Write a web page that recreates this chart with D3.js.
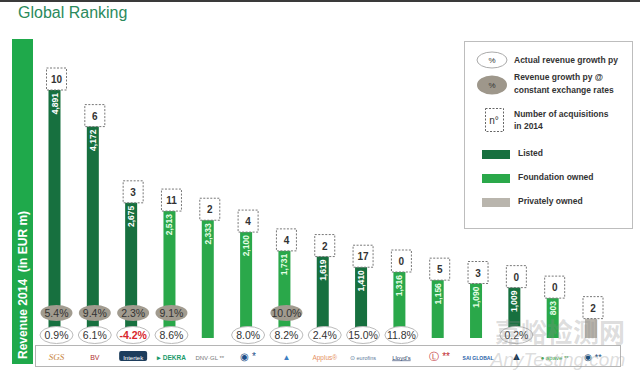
<!DOCTYPE html>
<html>
<head>
<meta charset="utf-8">
<script src="https://cdn.jsdelivr.net/npm/d3@7"></script>
<style>
  body { margin: 0; background: #fff; }
  text { font-family: "Liberation Sans", Arial, sans-serif; }
</style>
</head>
<body>
<script>
// data
var companies = ["SGS", "Bureau Veritas", "Intertek", "DEKRA", "DNV GL", "TUV SUD", "TUV Rheinland",
  "Applus", "Eurofins", "Lloyd's Register", "UL", "SAI Global", "Acuren", "Apave", "Socotec"];
var revenue = [4891, 4172, 2675, 2513, 2333, 2100, 1731, 1619, 1410, 1316, 1156, 1090, 1009, 803, 400];
var revenueLabels = ["4,891", "4,172", "2,675", "2,513", "2,333", "2,100", "1,731", "1,619", "1,410",
  "1,316", "1,156", "1,090", "1,009", "803", ""];
var ownership = ["listed", "listed", "listed", "foundation", "foundation", "foundation", "foundation",
  "listed", "listed", "foundation", "foundation", "foundation", "listed", "foundation", "private"];
var acquisitions = [10, 6, 3, 11, 2, 4, 4, 2, 17, 0, 5, 3, 0, 0, 2];
var growthConstant = [5.4, 9.4, 2.3, 9.1, null, null, 10.0, null, null, null, null, null, null, null, null];
var growthActual = [0.9, 6.1, -4.2, 8.6, null, 8.0, 8.2, 2.4, 15.0, 11.8, null, null, 0.2, null, null];

var colors = { listed: "#17703f", foundation: "#2aa84a", private: "#b9b5ad" };

var W = 640, H = 376;
var svg = d3.select("body").append("svg").attr("width", W).attr("height", H);

// scales
var x = d3.scalePoint().domain(companies).range([54.5, 591]);
var y = d3.scaleLinear().domain([0, 4891]).range([338, 89]);
var barW = 12;

// top rule + title
svg.append("rect").attr("x", 0).attr("y", 0).attr("width", W).attr("height", 2).attr("fill", "#3a3a3a");
svg.append("text").attr("x", 18).attr("y", 18)
  .attr("font-size", 16).attr("fill", "#2b8a5c").text("Global Ranking");

// left axis band
svg.append("rect").attr("x", 12).attr("y", 39).attr("width", 21).attr("height", 325).attr("fill", "#1fa94b");
svg.append("text").attr("transform", "translate(27,359) rotate(-90)")
  .attr("font-size", 12).attr("font-weight", "bold").attr("fill", "#fff")
  .attr("xml:space", "preserve").text("Revenue 2014  (in EUR m)");

// logo strip
svg.append("rect").attr("x", 35.5).attr("y", 345.5).attr("width", 585).attr("height", 21)
  .attr("fill", "#fff").attr("stroke", "#b5b5b5");

// bars
var bars = svg.append("g").selectAll("g").data(companies).join("g");
bars.append("rect")
  .attr("x", function (d) { return x(d) - barW / 2; })
  .attr("y", function (d, i) { return y(revenue[i]); })
  .attr("width", barW)
  .attr("height", function (d, i) { return y(0) - y(revenue[i]); })
  .attr("fill", function (d, i) { return colors[ownership[i]]; });

bars.append("text")
  .attr("transform", function (d, i) { return "translate(" + (x(d) + 3) + "," + (y(revenue[i]) + 4) + ") rotate(-90)"; })
  .attr("text-anchor", "end").attr("font-size", 8.5).attr("font-weight", "bold")
  .attr("fill", function (d, i) { return ownership[i] == "listed" ? "#fff" : "#e6ffe6"; })
  .text(function (d, i) { return revenueLabels[i]; });

// acquisition boxes
bars.append("rect")
  .attr("x", function (d) { return x(d) - 8; })
  .attr("y", function (d, i) { return y(revenue[i]) - 21; })
  .attr("width", 20).attr("height", 22)
  .attr("fill", "#fff").attr("stroke", "#777").attr("stroke-dasharray", "2,1.5");
bars.append("text")
  .attr("x", function (d) { return x(d) + 2; })
  .attr("y", function (d, i) { return y(revenue[i]) - 6; })
  .attr("text-anchor", "middle").attr("font-size", 10).attr("font-weight", "bold").attr("fill", "#333")
  .text(function (d, i) { return acquisitions[i]; });

// growth @ constant fx (grey ellipses)
var gc = bars.filter(function (d, i) { return growthConstant[i] != null; });
gc.append("ellipse")
  .attr("cx", function (d) { return x(d) + 2; }).attr("cy", 313)
  .attr("rx", 16).attr("ry", 8).attr("fill", "#a19b8f");
gc.append("text")
  .attr("x", function (d) { return x(d) + 2; }).attr("y", 317)
  .attr("text-anchor", "middle").attr("font-size", 10.5).attr("fill", "#333")
  .text(function (d) { return growthConstant[companies.indexOf(d)].toFixed(1) + "%"; });

// actual growth (white ellipses)
var ga = bars.filter(function (d, i) { return growthActual[i] != null; });
ga.append("ellipse")
  .attr("cx", function (d) { return x(d) + 2; }).attr("cy", 335)
  .attr("rx", 16.5).attr("ry", 8.5).attr("fill", "#fff").attr("stroke", "#bbb");
ga.append("text")
  .attr("x", function (d) { return x(d) + 2; }).attr("y", 339)
  .attr("text-anchor", "middle").attr("font-size", 10.5)
  .attr("font-weight", function (d) { return growthActual[companies.indexOf(d)] < 0 ? "bold" : "normal"; })
  .attr("fill", function (d) { return growthActual[companies.indexOf(d)] < 0 ? "#d8262b" : "#333"; })
  .text(function (d) { return growthActual[companies.indexOf(d)].toFixed(1) + "%"; });

// logos (approximated as text marks)
var logos = [
  { t: "SGS", c: "#c8843c", s: 9, st: "italic", f: "Liberation Serif" },
  { t: "BV", c: "#b03030", s: 7 },
  { t: "Intertek", c: "#fff", s: 6, box: "#1d3d5c" },
  { t: "\u25B8 DEKRA", c: "#1a9a6a", s: 6.5, w: "bold" },
  { t: "DNV\u00B7GL **", c: "#777", s: 6 },
  { t: "\u25C9 *", c: "#1d4f8a", s: 10 },
  { t: "\u25B2", c: "#3d7fc2", s: 8 },
  { t: "Applus\u00AE", c: "#e59060", s: 6.5 },
  { t: "\u2299 eurofins", c: "#5b7a9a", s: 5.5 },
  { t: "Lloyd's", c: "#2a3f6a", s: 6, u: true },
  { t: "\u24C1 **", c: "#c0282d", s: 10 },
  { t: "SAI GLOBAL", c: "#2a5fa8", s: 5, w: "bold" },
  { t: "\u25B2", c: "#1c3550", s: 11 },
  { t: "\u25CF apave **", c: "#3da64a", s: 6 },
  { t: "\u25C9 **", c: "#1d4f7a", s: 9 }
];
bars.each(function (d, i) {
  var g = d3.select(this), L = logos[i], cx = x(d) + 2;
  if (L.box) {
    g.append("rect").attr("x", cx - 14).attr("y", 351).attr("width", 28).attr("height", 10)
      .attr("rx", 2).attr("fill", L.box);
  }
  g.append("text").attr("x", cx).attr("y", 359.5).attr("text-anchor", "middle")
    .attr("font-size", L.s).attr("fill", L.c)
    .attr("font-style", L.st || "normal").attr("font-weight", L.w || "normal")
    .style("font-family", L.f || null)
    .attr("text-decoration", L.u ? "underline" : null)
    .text(L.t);
});

// legend
var lg = svg.append("g");
lg.append("rect").attr("x", 464.5).attr("y", 41.5).attr("width", 168).attr("height", 187)
  .attr("fill", "#fff").attr("stroke", "#bdbdbd");
lg.append("ellipse").attr("cx", 492).attr("cy", 60).attr("rx", 15).attr("ry", 8)
  .attr("fill", "#fff").attr("stroke", "#aaa");
lg.append("text").attr("x", 492).attr("y", 63).attr("text-anchor", "middle").attr("font-size", 8).attr("fill", "#333").text("%");
lg.append("ellipse").attr("cx", 492).attr("cy", 85).attr("rx", 15).attr("ry", 9.5).attr("fill", "#9e978b");
lg.append("text").attr("x", 492).attr("y", 88).attr("text-anchor", "middle").attr("font-size", 8).attr("fill", "#333").text("%");
lg.append("rect").attr("x", 485.5).attr("y", 108.5).attr("width", 18).attr("height", 23)
  .attr("fill", "#fff").attr("stroke", "#666").attr("stroke-dasharray", "2,1.5");
lg.append("text").attr("x", 494).attr("y", 124).attr("text-anchor", "middle").attr("font-size", 10).attr("fill", "#333").text("n\u00B0");

var legendKeys = ["listed", "foundation", "private"];
var legendNames = ["Listed", "Foundation owned", "Privately owned"];
var ly = d3.scalePoint().domain(legendKeys).range([150, 198]);
lg.selectAll(".sw").data(legendKeys).join("rect")
  .attr("x", 482).attr("y", function (d) { return ly(d); }).attr("width", 28).attr("height", 9)
  .attr("fill", function (d) { return colors[d]; });
lg.selectAll(".sl").data(legendKeys).join("text")
  .attr("x", 518).attr("y", function (d) { return ly(d) + 6; })
  .attr("font-size", 8.5).attr("font-weight", "bold").attr("fill", "#333")
  .text(function (d, i) { return legendNames[i]; });

var legendLines = [
  ["Actual revenue growth py", 63],
  ["Revenue growth py @", 80],
  ["constant exchange rates", 93],
  ["Number of acquisitions", 117],
  ["in 2014", 129]
];
lg.selectAll(".tl").data(legendLines).join("text")
  .attr("x", 514).attr("y", function (d) { return d[1]; })
  .attr("font-size", 8.5).attr("font-weight", "bold").attr("fill", "#333")
  .text(function (d) { return d[0]; });

// watermark
svg.append("text").attr("x", 560).attr("y", 342).attr("text-anchor", "middle")
  .style("font-family", "Noto Sans CJK SC").attr("font-size", 26).attr("font-weight", "bold")
  .attr("fill", "rgba(140,140,140,0.3)").text("嘉峪检测网");
svg.append("text").attr("x", 558).attr("y", 366).attr("text-anchor", "middle")
  .attr("font-size", 19).attr("font-style", "italic")
  .attr("fill", "rgba(140,140,140,0.3)").text("AnyTesting.com");
</script>
</body>
</html>
